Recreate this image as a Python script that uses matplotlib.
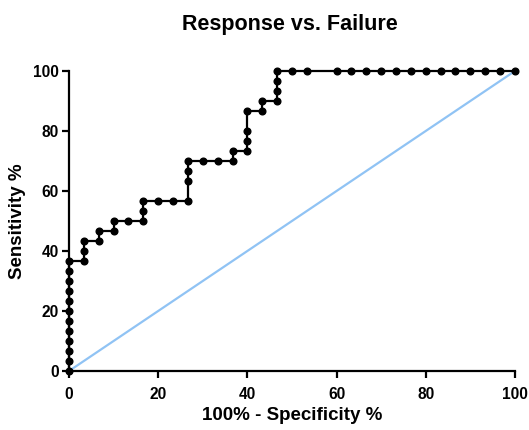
import matplotlib; matplotlib.use("Agg")
import matplotlib.pyplot as plt

plt.rcParams["font.family"] = ["Liberation Sans", "DejaVu Sans"]
plt.rcParams["font.weight"] = "bold"

# ROC points: 100% - specificity (x) and sensitivity (y), both in %
fpr = [0, 0, 0, 0, 0, 0, 0, 0, 0, 0, 0, 0,
       3.33, 3.33, 3.33, 6.67, 6.67, 10, 10, 13.33,
       16.67, 16.67, 16.67, 20, 23.33, 26.67, 26.67, 26.67, 26.67,
       30, 33.33, 36.67, 36.67, 40, 40, 40, 40, 43.33, 43.33,
       46.67, 46.67, 46.67, 46.67, 50, 53.33,
       60, 63.33, 66.67, 70, 73.33, 76.67, 80, 83.33, 86.67, 90, 93.33, 96.67, 100]
tpr = [0, 3.33, 6.67, 10, 13.33, 16.67, 20, 23.33, 26.67, 30, 33.33, 36.67,
       36.67, 40, 43.33, 43.33, 46.67, 46.67, 50, 50,
       50, 53.33, 56.67, 56.67, 56.67, 56.67, 63.33, 66.67, 70,
       70, 70, 70, 73.33, 73.33, 76.67, 80, 86.67, 86.67, 90,
       90, 93.33, 96.67, 100, 100, 100,
       100, 100, 100, 100, 100, 100, 100, 100, 100, 100, 100, 100, 100]
ref_line = [0, 100]
ticks = [0, 20, 40, 60, 80, 100]

fig = plt.figure(figsize=(5.29, 4.30), dpi=100)
ax = fig.add_axes([0.1304, 0.1372, 0.843, 0.6977])

ax.plot(ref_line, ref_line, color="#90c3f4", lw=1.6, zorder=2, clip_on=False)
ax.plot(fpr, tpr, color="black", lw=1.6, marker="o", ms=4.8, zorder=3, clip_on=False)

ax.set_xlim(0, 100); ax.set_ylim(0, 100)
ax.set_xticks(ticks); ax.set_yticks(ticks)
for s in ("top", "right"):
    ax.spines[s].set_visible(False)
for s in ("left", "bottom"):
    ax.spines[s].set_linewidth(1.6)
ax.tick_params(direction="out", length=5.2, width=1.6, labelsize=11.2)
ax.tick_params(axis="x", pad=6)
ax.tick_params(axis="y", pad=2)

ax.set_xlabel("100% - Specificity %", fontsize=13.5, fontweight="bold", labelpad=4)
ax.set_ylabel("Sensitivity %", fontsize=13.5, fontweight="bold", labelpad=5)
# title centred over the plot area, not the figure
fig.suptitle("Response vs. Failure", fontsize=15.5, fontweight="bold", x=0.548, y=0.968)

fig.savefig("out.png", dpi=100)
